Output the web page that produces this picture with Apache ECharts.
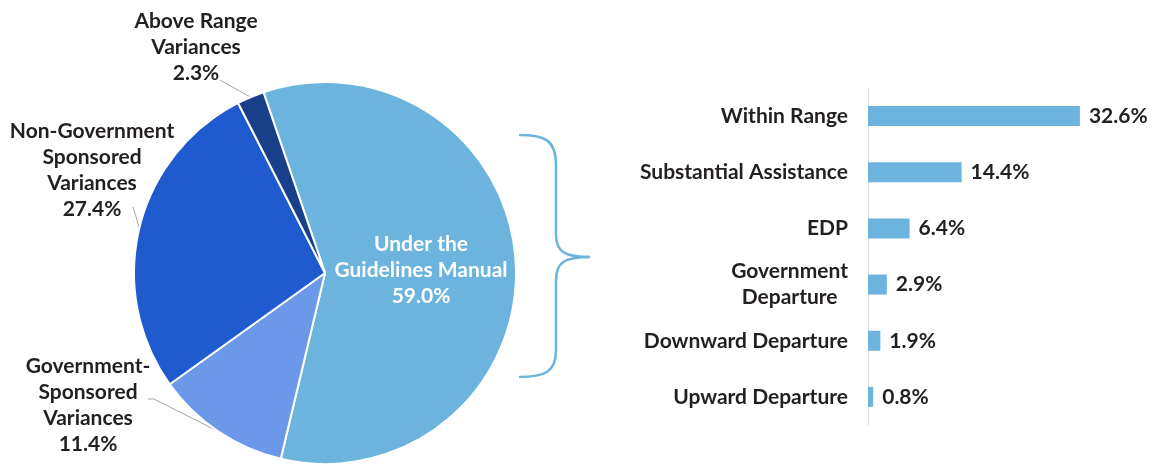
<!DOCTYPE html>
<html><head><meta charset="utf-8">
<script src="https://cdn.jsdelivr.net/npm/echarts@6/dist/echarts.min.js"></script>
<style>html,body{margin:0;padding:0;background:#fff}#c{width:1159px;height:465px}</style>
</head><body><div id="c"></div>
<script>
// Pie data (clockwise from top)
const pieNames = ['Under the Guidelines Manual', 'Government-Sponsored Variances', 'Non-Government Sponsored Variances', 'Above Range Variances'];
const pieLabelText = ['Under the\nGuidelines Manual', 'Government-\nSponsored\nVariances', 'Non-Government\nSponsored\nVariances', 'Above Range\nVariances'];
const pieValues = [59.0, 11.4, 27.4, 2.3];
const pieColors = ['#6cb4de', '#6b98e9', '#1f5bcf', '#173f8a'];

// Bar data
const barCategories = ['Within Range', 'Substantial Assistance', 'EDP', 'Government\nDeparture', 'Downward Departure', 'Upward Departure'];
const barValues = [32.6, 14.4, 6.4, 2.9, 1.9, 0.8];

const txt = '#231f20';
const font = 'Lato';
const fs = 21;
const braceColor = '#6cb4de';

// label placement (layout only)
const labelPos = [
  {x: 421, y: 270},
  {x: 88, y: 405, end: [[154, 399], [148, 399]]},
  {x: 92, y: 170, end: [[133, 207]]},
  {x: 196, y: 47, end: [[220, 80]]}
];

const braceStyle = {fill: 'none', stroke: braceColor, lineWidth: 2.5};
const brace = [
  {type: 'bezierCurve', shape: {x1: 519, y1: 135, cpx1: 545, cpy1: 135, cpx2: 556, cpy2: 140, x2: 556, y2: 165}, style: braceStyle},
  {type: 'line', shape: {x1: 556, y1: 165, x2: 556, y2: 235}, style: braceStyle},
  {type: 'bezierCurve', shape: {x1: 556, y1: 235, cpx1: 556, cpy1: 252, cpx2: 565, cpy2: 257, x2: 590, y2: 257}, style: braceStyle},
  {type: 'bezierCurve', shape: {x1: 590, y1: 257, cpx1: 565, cpy1: 257, cpx2: 556, cpy2: 262, x2: 556, y2: 280}, style: braceStyle},
  {type: 'line', shape: {x1: 556, y1: 280, x2: 556, y2: 350}, style: braceStyle},
  {type: 'bezierCurve', shape: {x1: 556, y1: 350, cpx1: 556, cpy1: 372, cpx2: 545, cpy2: 377, x2: 519, y2: 377}, style: braceStyle}
];

const chart = echarts.init(document.getElementById('c'), null, {renderer: 'canvas'});
chart.setOption({
  animation: false,
  textStyle: {fontFamily: font},
  grid: {left: 868, top: 88, width: 260, height: 337, containLabel: false},
  xAxis: {type: 'value', min: 0, max: 40, show: false},
  yAxis: {
    type: 'category', inverse: true, data: barCategories,
    axisLine: {show: true, lineStyle: {color: '#d9d9d9', width: 1}},
    axisTick: {show: false},
    axisLabel: {
      margin: 20, color: txt, fontFamily: font, fontWeight: 'bold', fontSize: fs,
      formatter: v => v.split('\n').map(s => '{c|' + s + '}').join('\n'),
      rich: {c: {align: 'center', color: txt, fontFamily: font, fontWeight: 'bold', fontSize: fs, lineHeight: 26}}
    }
  },
  graphic: brace,
  series: [
    {
      type: 'pie', center: [325, 273], radius: 191, startAngle: 108.8, clockwise: true,
      data: pieNames.map((n, i) => ({
        name: n, value: pieValues[i], itemStyle: {color: pieColors[i]},
        label: i === 0 ? {color: '#fff'} : undefined,
        labelLine: i === 0 ? {show: false} : undefined
      })),
      itemStyle: {borderColor: '#fff', borderWidth: 2},
      label: {
        show: true, position: 'outside', overflow: 'none', width: 400,
        formatter: p => pieLabelText[p.dataIndex] + '\n' + pieValues[p.dataIndex].toFixed(1) + '%',
        fontFamily: font, fontWeight: 'bold', fontSize: fs, lineHeight: 26, color: txt, align: 'center'
      },
      labelLine: {show: true, length: 10, length2: 10, lineStyle: {color: '#a6a6a6', width: 1}},
      labelLayout: function (p) {
        const lp = labelPos[p.dataIndex];
        const out = {x: lp.x, y: lp.y, align: 'center', verticalAlign: 'middle'};
        if (lp.end && p.labelLinePoints) {
          out.labelLinePoints = [p.labelLinePoints[0]].concat(lp.end);
        }
        return out;
      },
      emphasis: {disabled: true}
    },
    {
      type: 'bar', data: barValues, barWidth: 20,
      itemStyle: {color: '#6cb4de'},
      label: {show: true, position: 'right', distance: 9, formatter: p => p.value.toFixed(1) + '%',
        color: txt, fontFamily: font, fontWeight: 'bold', fontSize: fs},
      emphasis: {disabled: true}
    }
  ]
});
</script></body></html>
